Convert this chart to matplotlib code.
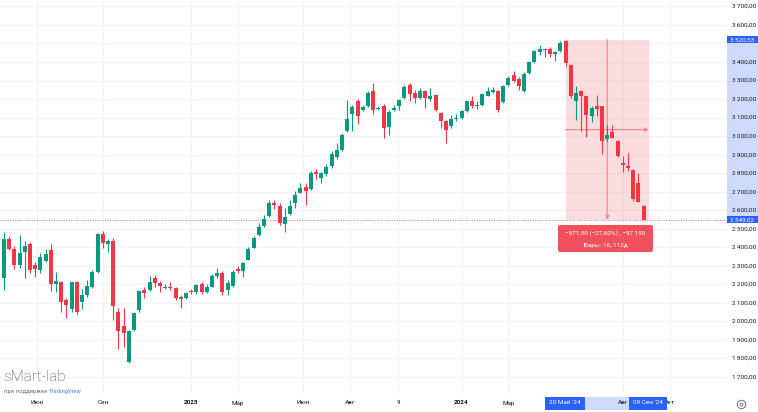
import matplotlib
matplotlib.use("Agg")
import matplotlib.pyplot as plt
from matplotlib.patches import Rectangle, FancyBboxPatch
from matplotlib.lines import Line2D
import numpy as np

# weekly candles
opens = [2233, 2445, 2391, 2305, 2377, 2417, 2305, 2278, 2326, 2386,
         2200, 2211, 2116, 2067, 2211, 2107, 2143, 2188, 2265, 2470,
         2417, 2436, 2049, 1975, 1780, 1954, 2062, 2170, 2170, 2233,
         2206, 2183, 2188, 2180, 2134, 2125, 2166, 2160, 2200, 2160,
         2188, 2245, 2260, 2170, 2191, 2285, 2274, 2332, 2398, 2467,
         2515, 2569, 2637, 2623, 2526, 2580, 2641, 2695, 2724, 2713,
         2808, 2773, 2796, 2836, 2886, 2926, 3025, 3119, 3187, 3140,
         3160, 3244, 3145, 3165, 3051, 3140, 3165, 3205, 3275, 3232,
         3205, 3244, 3200, 3222, 3124, 3082, 3054, 3090, 3097, 3136,
         3190, 3160, 3169, 3219, 3240, 3244, 3186, 3277, 3330, 3310,
         3245, 3340, 3400, 3453, 3471, 3471, 3443, 3460, 3514, 3385,
         3190, 3245, 3219, 3106, 3160, 3160, 2985, 3021, 2974, 2857,
         2841, 2818, 2746, 2625]
highs = [2481, 2463, 2409, 2465, 2434, 2427, 2323, 2368, 2391, 2417,
         2269, 2218, 2125, 2215, 2218, 2175, 2224, 2275, 2476, 2488,
         2445, 2450, 2070, 2075, 1954, 2049, 2170, 2188, 2245, 2251,
         2218, 2200, 2215, 2188, 2143, 2158, 2175, 2200, 2210, 2200,
         2255, 2287, 2270, 2224, 2280, 2300, 2322, 2400, 2460, 2530,
         2575, 2656, 2656, 2637, 2611, 2656, 2706, 2749, 2746, 2812,
         2820, 2809, 2850, 2917, 2965, 3016, 3196, 3169, 3201, 3169,
         3241, 3286, 3165, 3172, 3141, 3169, 3201, 3275, 3286, 3250,
         3260, 3250, 3262, 3226, 3132, 3088, 3115, 3120, 3142, 3192,
         3215, 3187, 3232, 3267, 3267, 3250, 3278, 3325, 3350, 3317,
         3345, 3405, 3463, 3491, 3475, 3480, 3460, 3511, 3520.53, 3390,
         3268, 3250, 3222, 3165, 3222, 3165, 3061, 3061, 2980, 2890,
         2908, 2823, 2800, 2630]
lows = [2170, 2385, 2283, 2290, 2235, 2260, 2242, 2260, 2323, 2164,
        2161, 2051, 2020, 2053, 2040, 2067, 2134, 2180, 2260, 2398,
        2373, 2008, 1850, 1860, 1774, 1948, 2049, 2125, 2164, 2188,
        2160, 2175, 2170, 2115, 2070, 2120, 2150, 2150, 2150, 2155,
        2185, 2236, 2142, 2143, 2185, 2260, 2238, 2330, 2395, 2460,
        2511, 2565, 2605, 2518, 2485, 2575, 2611, 2692, 2630, 2710,
        2767, 2746, 2785, 2828, 2876, 2920, 3021, 3025, 3065, 3133,
        3158, 3119, 3140, 2989, 3004, 3135, 3140, 3200, 3190, 3180,
        3200, 3150, 3190, 3136, 3043, 2962, 3046, 3083, 3093, 3131,
        3150, 3147, 3163, 3214, 3235, 3130, 3180, 3270, 3290, 3250,
        3238, 3335, 3395, 3440, 3425, 3425, 3403, 3455, 3381, 3205,
        3088, 3028, 2997, 3075, 3106, 2902, 2975, 2988, 2885, 2805,
        2812, 2650, 2647, 2545]
closes = [2445, 2391, 2305, 2368, 2409, 2278, 2283, 2350, 2362, 2200,
          2218, 2107, 2089, 2211, 2049, 2143, 2193, 2269, 2470, 2422,
          2434, 2083, 1948, 1940, 1948, 2044, 2164, 2152, 2215, 2206,
          2191, 2188, 2180, 2128, 2121, 2152, 2158, 2197, 2160, 2188,
          2245, 2262, 2160, 2206, 2269, 2270, 2317, 2390, 2449, 2508,
          2552, 2641, 2630, 2533, 2562, 2623, 2683, 2719, 2706, 2800,
          2796, 2800, 2832, 2904, 2926, 3007, 3093, 3156, 3111, 3158,
          3232, 3142, 3154, 3046, 3132, 3150, 3196, 3267, 3225, 3205,
          3244, 3205, 3216, 3142, 3079, 3033, 3093, 3100, 3136, 3187,
          3160, 3168, 3226, 3244, 3247, 3142, 3268, 3316, 3300, 3268,
          3335, 3400, 3457, 3471, 3465, 3443, 3453, 3500, 3393, 3214,
          3232, 3214, 3115, 3151, 3147, 2971, 3007, 2992, 2895, 2845,
          2827, 2661, 2647, 2549.02]

price_ticks = list(range(1700, 3800, 100))
hidden_ticks = [3500]  # covered by the 3 520,53 marker
month_labels = ["Июн", "Сен", "2023", "Мар", "Июн", "Авг", "9", "2024", "Мар", "Авг", "Окт"]
month_pos = [6.3, 19, 36, 45, 57.5, 66.5, 75.8, 88, 97, 119, 128]

start_idx, end_idx = 108, 124
start_label, end_label = "20 Май '24", "09 Сен '24"
top_price, last_price = 3520.53, 2549.02
measure_text = "\u2212971,50 (\u221227,60%) , \u221297\u2009150"
bars_text = "Бары: 16, 112д"

GREEN = "#089981"
RED = "#f23645"
BLUE = "#2962ff"
BAND = "#cfdbfb"


def price_label(p):
    whole = int(p)
    frac = int(round((p - whole) * 100))
    return f"{whole // 1000}\u2009{whole % 1000:03d},{frac:02d}"


def main():
    plt.rcParams["font.family"] = ["Roboto", "DejaVu Sans"]
    fig = plt.figure(figsize=(7.58, 4.12), dpi=100)
    W, H = 758, 412
    plot_w, plot_h = 727, 395
    ax = fig.add_axes([0, (H - plot_h) / H, plot_w / W, plot_h / H])

    step, x0 = 5.2, 4.0
    ppu = 0.1853  # pixels per price unit
    ax.set_xlim((0 - x0) / step, (plot_w - x0) / step)
    ax.set_ylim(1700 - (plot_h - 377) / ppu, 1700 + 377 / ppu)

    ax.set_yticks(price_ticks)
    ax.set_xticks(month_pos)
    ax.grid(color="#f0f3fa", linewidth=0.8)
    ax.tick_params(length=0, labelleft=False, labelbottom=False)
    for s in ax.spines.values():
        s.set_visible(False)
    ax.set_axisbelow(True)

    o = np.array(opens, dtype=float)
    h = np.array(highs, dtype=float)
    lo = np.array(lows, dtype=float)
    c = np.array(closes, dtype=float)
    idx = np.arange(len(o))
    cols = np.where(c >= o, GREEN, RED)

    # measure box under the candles
    ax.add_patch(Rectangle((start_idx, last_price), end_idx - start_idx,
                           top_price - last_price, facecolor=RED, alpha=0.17,
                           linewidth=0, zorder=1))
    mid_x = (start_idx + end_idx) / 2
    mid_y = (top_price + last_price) / 2
    arrow = dict(arrowstyle="->", color="#f07f89", lw=0.8, shrinkA=0, shrinkB=0,
                 mutation_scale=6)
    ax.annotate("", xy=(mid_x, last_price), xytext=(mid_x, top_price),
                arrowprops=arrow, zorder=1.5)
    ax.annotate("", xy=(end_idx, mid_y), xytext=(start_idx, mid_y),
                arrowprops=arrow, zorder=1.5)

    ax.axhline(last_price, color=RED, linestyle=(0, (1, 1.5)), lw=0.7, alpha=0.7, zorder=1.6)

    ax.vlines(idx, lo, h, colors=cols, linewidth=0.8, zorder=2)
    ax.bar(idx, np.maximum(np.abs(c - o), 4), bottom=np.minimum(o, c), width=0.74,
           color=cols, linewidth=0, zorder=3)

    # measure label
    bx0, bx1 = (558 - x0) / step, (653 - x0) / step
    by0, by1 = 1700 + (377 - 252) / ppu, 1700 + (377 - 225) / ppu
    ax.add_patch(FancyBboxPatch((bx0, by0), bx1 - bx0, by1 - by0,
                                boxstyle="round,pad=0,rounding_size=0.4",
                                mutation_aspect=28, facecolor="#f1505c",
                                linewidth=0, zorder=6, clip_on=False))
    cx = (bx0 + bx1) / 2
    ax.text(cx, 1700 + (377 - 233) / ppu, measure_text, color="white", fontsize=4.6,
            ha="center", va="center", zorder=7)
    ax.text(cx, 1700 + (377 - 245) / ppu, bars_text, color="white", fontsize=4.6,
            ha="center", va="center", zorder=7)

    # price scale
    ytr = ax.get_yaxis_transform()
    ax_w = 31 / plot_w
    ax.add_patch(Rectangle((1.0, last_price), ax_w, top_price - last_price,
                           transform=ytr, facecolor=BAND, linewidth=0,
                           clip_on=False, zorder=3))
    for p in price_ticks:
        if p in hidden_ticks:
            continue
        ax.text(756 / plot_w, p, price_label(p), transform=ytr, ha="right", va="center",
                fontsize=4.6, color="#131722", clip_on=False, zorder=4)
    box_h = 7.5 / ppu
    for p in (top_price, last_price):
        ax.add_patch(Rectangle((1.0, p - box_h / 2), ax_w, box_h, transform=ytr,
                               facecolor=BLUE, linewidth=0, clip_on=False, zorder=5))
        ax.text(742 / plot_w, p, price_label(p), transform=ytr, ha="center",
                va="center", fontsize=4.6, color="white", clip_on=False, zorder=6)

    # time scale
    xtr = ax.get_xaxis_transform()
    ty = (plot_h - 403) / plot_h
    for lab, pos in zip(month_labels, month_pos):
        bold = lab.isdigit() and len(lab) == 4
        ax.text(pos, ty, lab, transform=xtr, ha="center", va="center", fontsize=4.6,
                color="#131722", fontweight="bold" if bold else "normal",
                clip_on=False, zorder=4)
    yb0, yb1 = (plot_h - 410) / plot_h, (plot_h - 397) / plot_h
    s0, s1 = (545 - x0) / step, (585 - x0) / step
    e0, e1 = (629 - x0) / step, (667 - x0) / step
    ax.add_patch(Rectangle((s1, yb0), e0 - s1, yb1 - yb0, transform=xtr,
                           facecolor=BAND, linewidth=0, clip_on=False, zorder=3))
    for a, b, lab in ((s0, s1, start_label), (e0, e1, end_label)):
        ax.add_patch(Rectangle((a, yb0), b - a, yb1 - yb0, transform=xtr,
                               facecolor=BLUE, linewidth=0, clip_on=False, zorder=5))
        ax.text((a + b) / 2, ty, lab, transform=xtr, ha="center", va="center",
                fontsize=4.6, color="white", clip_on=False, zorder=6)

    # watermark
    fig.text(3 / W, (H - 381) / H, "sMart-lab", fontsize=11, color="#4a4c55",
             fontweight="light", va="baseline")
    t1 = fig.text(4 / W, (H - 391) / H, "при поддержке ", fontsize=4.2,
                  color="#6a6d78", va="center")
    fig.canvas.draw()
    bb = t1.get_window_extent()
    fig.text(bb.x1 / W, (H - 391) / H, "TradingView", fontsize=4.2,
             color="#4c7cf3", va="center")

    # settings icon
    gx, gy = 741 / W, (H - 404) / H
    fig.add_artist(Line2D([gx], [gy], marker="o", markersize=6, mfc="none",
                          mec="#787b86", mew=0.8, transform=fig.transFigure))
    fig.add_artist(Line2D([gx], [gy], marker="o", markersize=2, mfc="none",
                          mec="#787b86", mew=0.7, transform=fig.transFigure))

    fig.savefig("out.png", dpi=100, facecolor="white")


if __name__ == "__main__":
    main()
